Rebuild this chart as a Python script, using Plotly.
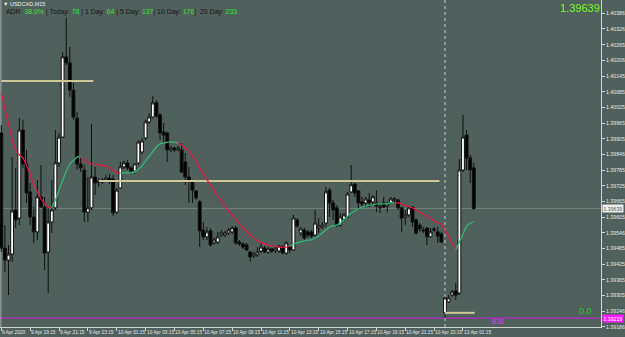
import plotly.graph_objects as go

# ---------------- data ----------------
# bar index 0 = 9 Apr 2020 17:15 (M15 bars); 123 = 13 Apr 00:00
opens = [1.39928,1.39487,1.39441,1.39464,1.39633,1.39602,1.39939,1.39809,1.39702,1.39606,
         1.39549,1.39683,1.39644,1.39472,1.39587,1.39641,1.39813,1.39912,1.40219,1.40196,
         1.40092,1.39985,1.39809,1.39786,1.39625,1.39641,1.39759,1.39744,1.39740,1.39748,
         1.39755,1.39752,1.39625,1.39717,1.39798,1.39813,1.39794,1.39782,1.39813,1.39855,
         1.39909,1.39970,1.39989,1.40043,1.39997,1.39932,1.39928,1.39863,1.39870,1.39863,
         1.39863,1.39817,1.39759,1.39740,1.39706,1.39664,1.39556,1.39530,1.39553,1.39507,
         1.39510,1.39537,1.39537,1.39545,1.39549,1.39564,1.39510,1.39503,1.39499,1.39472,
         1.39457,1.39461,1.39476,1.39487,1.39472,1.39484,1.39476,1.39476,1.39491,1.39468,
         1.39491,1.39480,1.39595,1.39545,1.39556,1.39549,1.39549,1.39537,1.39564,1.39568,
         1.39583,1.39709,1.39660,1.39641,1.39575,1.39598,1.39606,1.39702,1.39732,1.39706,
         1.39664,1.39660,1.39671,1.39664,1.39660,1.39641,1.39660,1.39648,1.39660,1.39671,
         1.39671,1.39641,1.39606,1.39614,1.39644,1.39595,1.39575,1.39556,1.39564,1.39530,
         1.39560,1.39549,1.39541,1.39239,1.39281,1.39307,1.39323,1.39315,1.39786,1.39920,
         1.39832,1.39794]
highs = [1.39958,1.39575,1.39499,1.39836,1.39794,1.39985,1.39978,1.39863,1.39736,1.39644,
         1.39748,1.39805,1.39683,1.39644,1.39748,1.39939,1.39928,1.40238,1.40368,1.40257,
         1.40119,1.40008,1.39836,1.39805,1.39759,1.39962,1.39798,1.39755,1.39755,1.39767,
         1.39771,1.39767,1.39717,1.39817,1.39821,1.39824,1.39801,1.39813,1.39901,1.39909,
         1.39978,1.40004,1.40069,1.40054,1.40004,1.39966,1.39932,1.39878,1.39874,1.39878,
         1.39889,1.39851,1.39798,1.39748,1.39709,1.39671,1.39587,1.39568,1.39564,1.39526,
         1.39549,1.39556,1.39553,1.39564,1.39572,1.39572,1.39518,1.39510,1.39507,1.39476,
         1.39472,1.39491,1.39510,1.39495,1.39491,1.39487,1.39491,1.39499,1.39499,1.39514,
         1.39499,1.39614,1.39602,1.39568,1.39564,1.39556,1.39556,1.39633,1.39602,1.39587,
         1.39721,1.39717,1.39671,1.39652,1.39621,1.39621,1.39702,1.39805,1.39736,1.39709,
         1.39683,1.39683,1.39698,1.39690,1.39709,1.39660,1.39683,1.39664,1.39683,1.39683,
         1.39675,1.39644,1.39633,1.39644,1.39648,1.39602,1.39583,1.39568,1.39568,1.39564,
         1.39568,1.39568,1.39549,1.39300,1.39307,1.39327,1.39353,1.39828,1.39997,1.39939,
         1.39844,1.39813]
lows = [1.39472,1.39396,1.39307,1.39434,1.39564,1.39575,1.39794,1.39660,1.39575,1.39507,
        1.39518,1.39641,1.39403,1.39315,1.39545,1.39633,1.39798,1.39909,1.40188,1.40066,
        1.39978,1.39786,1.39778,1.39587,1.39587,1.39633,1.39690,1.39721,1.39732,1.39740,
        1.39732,1.39610,1.39618,1.39713,1.39790,1.39786,1.39771,1.39771,1.39805,1.39847,
        1.39901,1.39962,1.39985,1.39985,1.39901,1.39889,1.39817,1.39855,1.39855,1.39859,
        1.39775,1.39729,1.39660,1.39660,1.39671,1.39491,1.39518,1.39518,1.39491,1.39499,
        1.39503,1.39530,1.39530,1.39537,1.39541,1.39499,1.39495,1.39484,1.39476,1.39434,
        1.39449,1.39453,1.39468,1.39468,1.39464,1.39468,1.39468,1.39468,1.39464,1.39461,
        1.39468,1.39476,1.39564,1.39533,1.39518,1.39526,1.39526,1.39530,1.39545,1.39560,
        1.39568,1.39606,1.39595,1.39568,1.39568,1.39591,1.39602,1.39698,1.39683,1.39633,
        1.39641,1.39644,1.39644,1.39652,1.39625,1.39621,1.39641,1.39625,1.39656,1.39660,
        1.39633,1.39549,1.39575,1.39606,1.39568,1.39537,1.39549,1.39545,1.39499,1.39526,
        1.39549,1.39507,1.39507,1.39219,1.39277,1.39300,1.39288,1.39307,1.39778,1.39786,
        1.39736,1.39633]
closes = [1.39487,1.39441,1.39464,1.39629,1.39595,1.39939,1.39809,1.39698,1.39606,1.39549,
          1.39683,1.39644,1.39468,1.39587,1.39633,1.39813,1.39912,1.40219,1.40196,1.40092,
          1.39989,1.39809,1.39794,1.39625,1.39641,1.39759,1.39736,1.39740,1.39748,1.39755,
          1.39744,1.39621,1.39709,1.39798,1.39813,1.39794,1.39782,1.39809,1.39893,1.39897,
          1.39970,1.39989,1.40043,1.39993,1.39928,1.39920,1.39863,1.39870,1.39863,1.39870,
          1.39778,1.39759,1.39748,1.39709,1.39679,1.39553,1.39530,1.39549,1.39499,1.39518,
          1.39530,1.39545,1.39545,1.39556,1.39564,1.39507,1.39503,1.39491,1.39480,1.39453,
          1.39464,1.39472,1.39491,1.39472,1.39484,1.39476,1.39484,1.39495,1.39468,1.39507,
          1.39480,1.39602,1.39572,1.39560,1.39526,1.39537,1.39533,1.39583,1.39572,1.39575,
          1.39702,1.39660,1.39633,1.39575,1.39606,1.39614,1.39694,1.39729,1.39698,1.39660,
          1.39656,1.39675,1.39660,1.39683,1.39648,1.39644,1.39644,1.39656,1.39675,1.39675,
          1.39641,1.39602,1.39614,1.39641,1.39587,1.39545,1.39560,1.39553,1.39530,1.39549,
          1.39556,1.39533,1.39510,1.39296,1.39296,1.39319,1.39307,1.39786,1.39912,1.39832,
          1.39786,1.39639]
# colour-changing moving average (one value per bar)
ma = [1.40081,1.40023,1.39958,1.39901,1.39863,1.39844,1.39832,1.39805,1.39767,1.39729,
      1.39702,1.39675,1.39656,1.39644,1.39641,1.39671,1.39709,1.39748,1.39782,1.39809,
      1.39824,1.39836,1.39836,1.39824,1.39813,1.39809,1.39809,1.39805,1.39805,1.39801,
      1.39794,1.39786,1.39775,1.39775,1.39775,1.39775,1.39775,1.39778,1.39790,1.39801,
      1.39821,1.39840,1.39859,1.39874,1.39886,1.39889,1.39893,1.39893,1.39893,1.39889,
      1.39882,1.39870,1.39859,1.39840,1.39821,1.39794,1.39771,1.39748,1.39725,1.39706,
      1.39687,1.39667,1.39648,1.39629,1.39614,1.39595,1.39579,1.39564,1.39549,1.39537,
      1.39526,1.39514,1.39507,1.39503,1.39499,1.39495,1.39495,1.39491,1.39491,1.39491,
      1.39495,1.39503,1.39507,1.39510,1.39514,1.39518,1.39518,1.39526,1.39533,1.39545,
      1.39556,1.39568,1.39572,1.39575,1.39583,1.39595,1.39610,1.39621,1.39629,1.39637,
      1.39644,1.39648,1.39652,1.39652,1.39656,1.39656,1.39656,1.39656,1.39660,1.39660,
      1.39660,1.39656,1.39652,1.39648,1.39641,1.39633,1.39625,1.39614,1.39606,1.39598,
      1.39591,1.39583,1.39579,1.39556,1.39533,1.39507,1.39480,1.39510,1.39541,1.39572,
      1.39583,1.39587]
ma_down_segments = [(0, 14), (22, 33), (49, 80), (109, 126)]
ma_up_segments = [(14, 22), (33, 49), (80, 109), (126, 131)]

day_open_levels = [1.40127, 1.39744, 1.39239]
day_open_from = [0, 27, 123]
day_open_to = [25.5, 121.5, 131.2]
separator_idx = 123
bid = 1.39639
low_level = 1.39219
low_text = "838"
zero_text = "0.0"

tick_idx = [0, 8, 16, 24, 32, 40, 48, 56, 64, 72, 80, 88, 96, 104, 112, 120, 128]
tick_labels = ["9 Apr 2020", "9 Apr 19:15", "9 Apr 21:15", "9 Apr 23:15", "10 Apr 01:15",
               "10 Apr 03:15", "10 Apr 05:15", "10 Apr 07:15", "10 Apr 09:15", "10 Apr 11:15",
               "10 Apr 13:15", "10 Apr 15:15", "10 Apr 17:15", "10 Apr 19:15", "10 Apr 21:15",
               "10 Apr 23:15", "13 Apr 01:15"]
price_ticks = [1.40386, 1.40326, 1.40265, 1.40206, 1.40145, 1.40085, 1.40025, 1.39965,
               1.39905, 1.39846, 1.39785, 1.39725, 1.39665, 1.39605, 1.39546, 1.39485,
               1.39425, 1.39365, 1.39305, 1.39246, 1.39186]

symbol_title = "USDCAD,M15"
adr_labels = ["ADR: ", " | Today: ", " | 1 Day: ", " | 5 Day: ", "| 10 Day: ", "|  20 Day: "]
adr_values = ["38.0%", "78", "64", "137", "176", "233"]

# ---------------- styling ----------------
BG = "#50605c"
AXC = "#d0d4d2"
TXT = "#e6e8e8"
FONT = "Liberation Sans Narrow, Arial Narrow, Liberation Sans, Arial"
W, H = 625, 337
ML, MR, MT, MB = 0, 21, 0, 10
PW, PH = W - ML - MR, H - MT - MB

x = list(range(len(opens)))

fig = go.Figure()

fig.add_trace(go.Candlestick(
    x=x, open=opens, high=highs, low=lows, close=closes,
    increasing=dict(line=dict(color="#101010", width=1), fillcolor="#ffffff"),
    decreasing=dict(line=dict(color="#101010", width=1), fillcolor="#000000"),
    whiskerwidth=0, hoverinfo="skip", showlegend=False))

# daily open lines
for lvl, a, b in zip(day_open_levels, day_open_from, day_open_to):
    fig.add_trace(go.Scatter(x=[a, b], y=[lvl, lvl], mode="lines",
                             line=dict(color="#cec898", width=2), hoverinfo="skip",
                             showlegend=False))


def seg_series(segs):
    ys = [None] * len(ma)
    for a, b in segs:
        for i in range(a, b + 1):
            ys[i] = ma[i]
    return ys


fig.add_trace(go.Scatter(x=x, y=seg_series(ma_down_segments), mode="lines",
                         line=dict(color="#e8173f", width=1.2), connectgaps=False,
                         hoverinfo="skip", showlegend=False))
fig.add_trace(go.Scatter(x=x, y=seg_series(ma_up_segments), mode="lines",
                         line=dict(color="#2fbf74", width=1.2), connectgaps=False,
                         hoverinfo="skip", showlegend=False))

shapes = [
    dict(type="line", xref="paper", x0=0, x1=1, yref="y", y0=bid, y1=bid,
         line=dict(color="#74847f", width=1), layer="below"),
    dict(type="line", xref="paper", x0=0, x1=1, yref="y", y0=low_level, y1=low_level,
         line=dict(color="#b02cbf", width=1.2), layer="below"),
    dict(type="line", xref="x", x0=separator_idx, x1=separator_idx, yref="paper", y0=0, y1=1,
         line=dict(color="#c8cccb", width=1, dash="dot"), layer="below"),
    dict(type="line", xref="paper", x0=0.0015, x1=0.0015, yref="paper", y0=0, y1=1,
         line=dict(color="#a9b1af", width=1), layer="below"),
]

ann = []
# x tick labels (left aligned at tick like MT4)
for ti, tl in zip(tick_idx, tick_labels):
    ann.append(dict(x=ti, xref="x", y=0, yref="paper", text=tl, showarrow=False,
                    xanchor="left", yanchor="top", yshift=-1.5, borderpad=0,
                    font=dict(family=FONT, size=4.8, color=TXT)))

# title + ADR line
ann.append(dict(x=2 / PW, xref="paper", y=1 - 3.5 / PH, yref="paper",
                text="\u25bc " + symbol_title, showarrow=False, xanchor="left",
                yanchor="middle", borderpad=0, font=dict(family=FONT, size=5.5, color="#f2f2f2")))
adr_html = "".join(
    '<span style="color:#151515">%s</span><span style="color:#35e035">%s</span>' % (l, v)
    for l, v in zip(adr_labels, adr_values))
ann.append(dict(x=5 / PW, xref="paper", y=1 - 12 / PH, yref="paper", text=adr_html,
                showarrow=False, xanchor="left", yanchor="middle", borderpad=0,
                font=dict(family="Liberation Sans, Arial", size=6.9)))

# big price top right
ann.append(dict(x=1, xref="paper", y=1 - 8.5 / PH, yref="paper", text="%.5f" % bid,
                showarrow=False, xanchor="right", yanchor="middle", borderpad=0,
                font=dict(family=FONT, size=11, color="#7df52a")))
# 0.0 label
ann.append(dict(x=596 / PW, xref="paper", y=1 - 311 / PH, yref="paper", text=zero_text,
                showarrow=False, xanchor="right", yanchor="middle", borderpad=0,
                font=dict(family="Liberation Sans, Arial", size=9, color="#34c634")))
# 838 label
ann.append(dict(x=500 / PW, xref="paper", y=low_level, yref="y", yshift=-3, text=low_text,
                showarrow=False, xanchor="center", yanchor="middle", borderpad=0,
                font=dict(family="Liberation Sans, Arial", size=7, color="#e23be2")))
# price boxes on the axis
ann.append(dict(x=1, xref="paper", xshift=1, y=bid, yref="y", text="%.5f" % bid,
                showarrow=False, xanchor="left", yanchor="middle", borderpad=0.5,
                bgcolor="#eceeed", font=dict(family=FONT, size=5.2, color="#555555")))
ann.append(dict(x=1, xref="paper", xshift=1, y=low_level, yref="y", text="%.5f" % low_level,
                showarrow=False, xanchor="left", yanchor="middle", borderpad=0.5,
                bgcolor="#ff1aff", font=dict(family=FONT, size=5.2, color="#ffffff")))

fig.update_layout(
    width=W, height=H, margin=dict(l=ML, r=MR, t=MT, b=MB),
    paper_bgcolor=BG, plot_bgcolor=BG, showlegend=False, hovermode=False,
    boxgap=0.1, boxgroupgap=0.12,
    shapes=shapes, annotations=ann,
    xaxis=dict(range=[-0.359, 166.26], rangeslider=dict(visible=False), showgrid=False,
               zeroline=False, showline=True, linecolor=AXC, linewidth=1,
               tickmode="array", tickvals=tick_idx, ticks="outside", ticklen=3,
               tickcolor=AXC, showticklabels=False, fixedrange=True),
    yaxis=dict(range=[1.391848, 1.40437], side="right", showgrid=False, zeroline=False,
               showline=True, linecolor=AXC, linewidth=1, tickmode="array",
               tickvals=price_ticks, ticktext=["%.5f" % v for v in price_ticks],
               ticks="outside", ticklen=3, tickcolor=AXC,
               tickfont=dict(family=FONT, size=5.2, color=TXT), fixedrange=True),
)

fig.write_html("out.html")
